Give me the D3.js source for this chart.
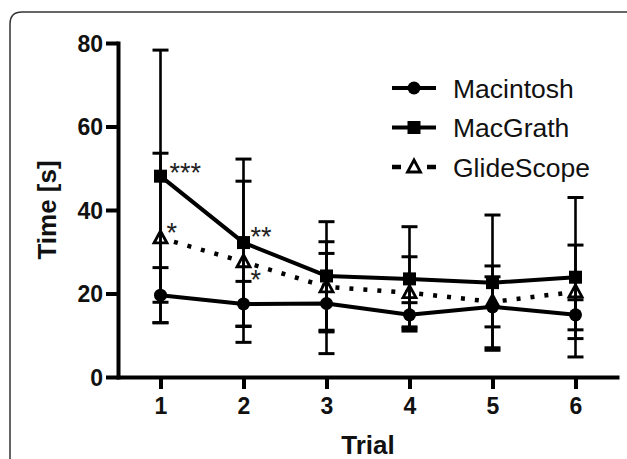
<!DOCTYPE html>
<html>
<head>
<meta charset="utf-8">
<script src="https://cdn.jsdelivr.net/npm/d3@7/dist/d3.min.js"></script>
<style>
  html, body { margin: 0; padding: 0; background: #fff; }
  svg { display: block; }
  text { font-family: "Liberation Sans", Arial, sans-serif; }
</style>
</head>
<body>
<svg id="chart" width="627" height="459"></svg>
<script>
// ---- data ----
const trials = [1, 2, 3, 4, 5, 6];
const yTicks = [0, 20, 40, 60, 80];
const seriesNames = ["Macintosh", "MacGrath", "GlideScope"];
const macintoshMean = [19.6, 17.5, 17.6, 14.9, 16.8, 14.9];
const macintoshSD   = [6.6, 5.4, 12.0, 2.9, 9.8, 3.6];
const macgrathMean  = [48.1, 32.2, 24.2, 23.5, 22.6, 23.9];
const macgrathSD    = [30.2, 20.0, 13.0, 12.5, 16.2, 19.1];
const glidescopeMean = [33.3, 27.6, 21.6, 20.2, 18.0, 20.4];
const glidescopeSD   = [20.3, 19.3, 10.8, 8.6, 6.0, 11.2];
const annotations = [
  { series: "MacGrath", trial: 1, text: "***" },
  { series: "GlideScope", trial: 1, text: "*" },
  { series: "MacGrath", trial: 2, text: "**" },
  { series: "GlideScope", trial: 2, text: "*" }
];

// ---- layout ----
const svg = d3.select("#chart");
const x = d3.scaleLinear().domain([0.5, 6.5]).range([119, 617]);
const y = d3.scaleLinear().domain([0, 80]).range([377, 43]);

const series = [
  { name: "GlideScope", mean: glidescopeMean, sd: glidescopeSD, marker: "triangle", dash: "4,10" },
  { name: "MacGrath", mean: macgrathMean, sd: macgrathSD, marker: "square", dash: null },
  { name: "Macintosh", mean: macintoshMean, sd: macintoshSD, marker: "circle", dash: null }
];
const byName = {};
series.forEach(s => byName[s.name] = s);

// frame
svg.append("path")
  .attr("d", "M10,470 L10,24 Q10,12 22,12 L640,12")
  .attr("fill", "none").attr("stroke", "#333").attr("stroke-width", 1.5);

// axes
const yAxis = d3.axisLeft(y).tickValues(yTicks).tickSize(12).tickSizeOuter(0).tickPadding(3).tickFormat(d3.format("d"));
const gy = svg.append("g").attr("transform", "translate(118,0)").call(yAxis);
const xAxis = d3.axisBottom(x).tickValues(trials).tickSize(12).tickSizeOuter(0).tickPadding(9).tickFormat(d3.format("d"));
const gx = svg.append("g").attr("transform", "translate(0,377)").call(xAxis);
[gx, gy].forEach(g => {
  g.attr("font-family", null).attr("font-size", null);
  g.select(".domain").attr("stroke", "#000").attr("stroke-width", 4).attr("stroke-linecap", "square");
  g.selectAll(".tick line").attr("stroke", "#000").attr("stroke-width", 4);
  g.selectAll(".tick text").attr("fill", "#111")
    .style("font-family", "'Liberation Sans', Arial, sans-serif")
    .style("font-size", "23px").style("font-weight", "bold");
});
gy.selectAll(".tick text").attr("dy", "0.36em");

// axis titles
svg.append("text")
  .attr("transform", "translate(56,210) rotate(-90)")
  .attr("text-anchor", "middle")
  .style("font-size", "26px").style("font-weight", "bold").attr("fill", "#111")
  .text("Time [s]");
svg.append("text")
  .attr("x", 368).attr("y", 454)
  .attr("text-anchor", "middle")
  .style("font-size", "26px").style("font-weight", "bold").attr("fill", "#111")
  .text("Trial");

// lines
const line = d3.line().x((d, i) => x(trials[i])).y(d => y(d));
const linesOrder = [byName["Macintosh"], byName["MacGrath"], byName["GlideScope"]];
linesOrder.forEach(s => {
  svg.append("path")
    .datum(s.mean)
    .attr("d", line)
    .attr("fill", "none")
    .attr("stroke", "#000")
    .attr("stroke-width", s.dash ? 4.5 : 4)
    .attr("stroke-dasharray", s.dash)
    .attr("stroke-linejoin", "round");
});

// markers
function drawMarker(g, type, cx, cy) {
  if (type === "circle") {
    g.append("circle").attr("cx", cx).attr("cy", cy).attr("r", 6.5).attr("fill", "#000");
  } else if (type === "square") {
    g.append("rect").attr("x", cx - 6.5).attr("y", cy - 6.5).attr("width", 13).attr("height", 13).attr("fill", "#000");
  } else {
    g.append("path")
      .attr("d", `M${cx},${cy - 7} L${cx + 6.5},${cy + 5} L${cx - 6.5},${cy + 5} Z`)
      .attr("fill", "#fff").attr("stroke", "#000").attr("stroke-width", 2.8).attr("stroke-linejoin", "miter");
  }
}
const gm = svg.append("g");
series.forEach(s => {
  s.mean.forEach((m, i) => drawMarker(gm, s.marker, x(trials[i]), y(m)));
});

// error bars
const ge = svg.append("g").attr("stroke", "#000");
series.forEach(s => {
  s.mean.forEach((m, i) => {
    const cx = x(trials[i]);
    const hi = y(m + s.sd[i]), lo = y(m - s.sd[i]);
    ge.append("line").attr("x1", cx).attr("x2", cx).attr("y1", hi).attr("y2", lo).attr("stroke-width", 2.6);
    [hi, lo].forEach(yy => {
      ge.append("line").attr("x1", cx - 8).attr("x2", cx + 8).attr("y1", yy).attr("y2", yy).attr("stroke-width", 3);
    });
  });
});

// significance annotations
const annOffset = {
  "MacGrath-1": [9, 6], "GlideScope-1": [6, 4],
  "MacGrath-2": [7, 3.5], "GlideScope-2": [7, 27.5]
};
annotations.forEach(a => {
  const s = byName[a.series];
  const off = annOffset[a.series + "-" + a.trial];
  svg.append("text")
    .attr("x", x(a.trial) + off[0])
    .attr("y", y(s.mean[trials.indexOf(a.trial)]) + off[1])
    .style("font-size", "27px").attr("fill", "#222")
    .text(a.text);
});

// legend
const legendRows = [
  { name: "Macintosh", marker: "circle", dashed: false },
  { name: "MacGrath", marker: "square", dashed: false },
  { name: "GlideScope", marker: "triangle", dashed: true }
];
const ly = d3.scalePoint().domain(seriesNames).range([88, 167]);
const gl = svg.append("g");
legendRows.forEach(r => {
  const yy = ly(r.name);
  if (r.dashed) {
    gl.append("line").attr("x1", 392).attr("x2", 401).attr("y1", yy).attr("y2", yy).attr("stroke", "#000").attr("stroke-width", 4.5);
    gl.append("line").attr("x1", 427).attr("x2", 436).attr("y1", yy).attr("y2", yy).attr("stroke", "#000").attr("stroke-width", 4.5);
  } else {
    gl.append("line").attr("x1", 392).attr("x2", 436).attr("y1", yy).attr("y2", yy).attr("stroke", "#000").attr("stroke-width", 4);
  }
  drawMarker(gl, r.marker, 414, yy);
  gl.append("text").attr("x", 453).attr("y", yy + 9.5)
    .style("font-size", "26.5px").attr("fill", "#111").text(r.name);
});
</script>
</body>
</html>
